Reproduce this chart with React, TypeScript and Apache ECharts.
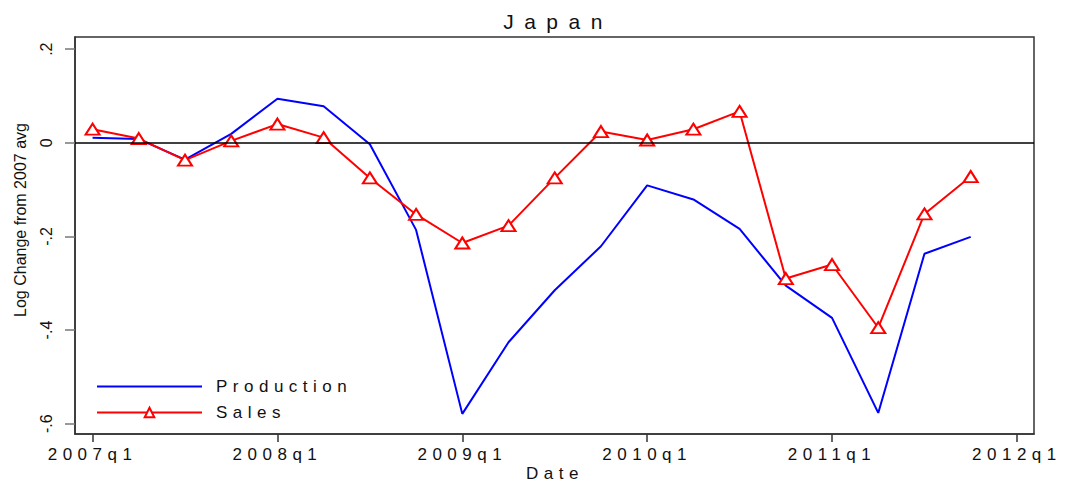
import React, { useEffect, useRef } from "react";
import * as echarts from "echarts";

const quarters = [
  "2007q1", "2007q2", "2007q3", "2007q4",
  "2008q1", "2008q2", "2008q3", "2008q4",
  "2009q1", "2009q2", "2009q3", "2009q4",
  "2010q1", "2010q2", "2010q3", "2010q4",
  "2011q1", "2011q2", "2011q3", "2011q4",
];
const production = [
  0.011, 0.008, -0.036, 0.019, 0.094, 0.078, -0.003, -0.186,
  -0.579, -0.426, -0.315, -0.221, -0.091, -0.121, -0.184, -0.305,
  -0.374, -0.577, -0.237, -0.201,
];
const sales = [
  0.029, 0.009, -0.037, 0.004, 0.040, 0.011, -0.075, -0.153,
  -0.214, -0.177, -0.075, 0.024, 0.006, 0.029, 0.067, -0.290,
  -0.260, -0.395, -0.152, -0.072,
];
const xTickLabels = ["2007q1", "2008q1", "2009q1", "2010q1", "2011q1", "2012q1"];
const xTickPositions = [0, 4, 8, 12, 16, 20];
const yTicks = [-0.6, -0.4, -0.2, 0, 0.2];

const FONT = '"Liberation Sans", Arial, sans-serif';

const css = `
#chartroot text[style*="17px"] { letter-spacing: 5.5px; }
#chartroot text[style*="21px"] { letter-spacing: 10.5px; }
`;

function fmtY(v: number): string {
  if (Math.abs(v) < 1e-9) return "0";
  const s = v.toFixed(1);
  return s.replace("0.", ".");
}

export default function App() {
  const ref = useRef<HTMLDivElement>(null);
  useEffect(() => {
    if (!ref.current) return;
    const chart = echarts.init(ref.current, undefined, { renderer: "svg" });
    const prodData = production.map((v, i) => [i, v]);
    const salesData = sales.map((v, i) => [i, v]);
    chart.setOption({
      animation: false,
      backgroundColor: "#fff",
      textStyle: { fontFamily: FONT },
      grid: {
        left: 75,
        top: 37,
        right: 31,
        bottom: 53,
        show: true,
        borderColor: "#333",
        borderWidth: 1.5,
        containLabel: false,
      },
      xAxis: {
        type: "value",
        min: -0.38,
        max: 20.37,
        splitLine: { show: false },
        axisLine: { show: true, onZero: false, lineStyle: { color: "#333", width: 1.5 } },
        axisTick: {
          show: true,
          length: 8,
          customValues: xTickPositions,
          lineStyle: { color: "#333", width: 1.5 },
        },
        axisLabel: {
          customValues: xTickPositions,
          margin: 12,
          fontSize: 17,
          fontFamily: FONT,
          color: "#111",
          formatter: (v: number) => {
            const idx = xTickPositions.indexOf(Math.round(v));
            return idx >= 0 ? xTickLabels[idx] : "";
          },
        },
      },
      yAxis: {
        type: "value",
        min: -0.622,
        max: 0.226,
        splitLine: { show: false },
        axisLine: { show: true, onZero: false, lineStyle: { color: "#333", width: 1.5 } },
        axisTick: {
          show: true,
          length: 10,
          customValues: yTicks,
          lineStyle: { color: "#777", width: 1.5 },
        },
        axisLabel: {
          customValues: yTicks,
          rotate: 90,
          margin: 21,
          fontSize: 16,
          fontFamily: FONT,
          color: "#111",
          formatter: (v: number) => fmtY(v),
        },
      },
      legend: {
        orient: "vertical",
        left: 96,
        top: 378,
        padding: 0,
        itemWidth: 105,
        itemHeight: 12,
        itemGap: 9,
        textStyle: { fontSize: 17, fontFamily: FONT, color: "#111", padding: [0, 0, 0, 9] },
        data: [
          { name: "Production", itemStyle: { opacity: 0 } },
          { name: "Sales" },
        ],
      },
      graphic: [
        {
          type: "text",
          x: 558,
          y: 21,
          style: { text: "Japan", font: `21px ${FONT}`, fill: "#111", align: "center", verticalAlign: "middle" },
        },
        {
          type: "text",
          x: 555,
          y: 473,
          style: { text: "Date", font: `17px ${FONT}`, fill: "#111", align: "center", verticalAlign: "middle" },
        },
        {
          type: "text",
          x: 20,
          y: 220,
          rotation: Math.PI / 2,
          style: {
            text: "Log Change from 2007 avg",
            font: `16px ${FONT}`,
            fill: "#111",
            align: "center",
            verticalAlign: "middle",
          },
        },
      ],
      series: [
        {
          name: "Production",
          type: "line",
          data: prodData,
          symbol: "none",
          color: "#0000ff",
          lineStyle: { color: "#0000ff", width: 2 },
          markLine: {
            silent: true,
            symbol: "none",
            label: { show: false },
            lineStyle: { color: "#000", width: 1.5, type: "solid" },
            data: [{ yAxis: 0 }],
          },
          z: 2,
        },
        {
          name: "Sales",
          type: "line",
          data: salesData,
          symbol: "emptyTriangle",
          symbolSize: [14, 11],
          color: "#ff0000",
          itemStyle: { color: "#ff0000", borderWidth: 2 },
          lineStyle: { color: "#ff0000", width: 2 },
          z: 3,
        },
      ],
    });
    return () => chart.dispose();
  }, []);
  return (
    <>
      <style>{css}</style>
      <div
        id="chartroot"
        ref={ref}
        style={{ position: "absolute", left: 0, top: 0, width: 1065, height: 487 }}
      />
    </>
  );
}
